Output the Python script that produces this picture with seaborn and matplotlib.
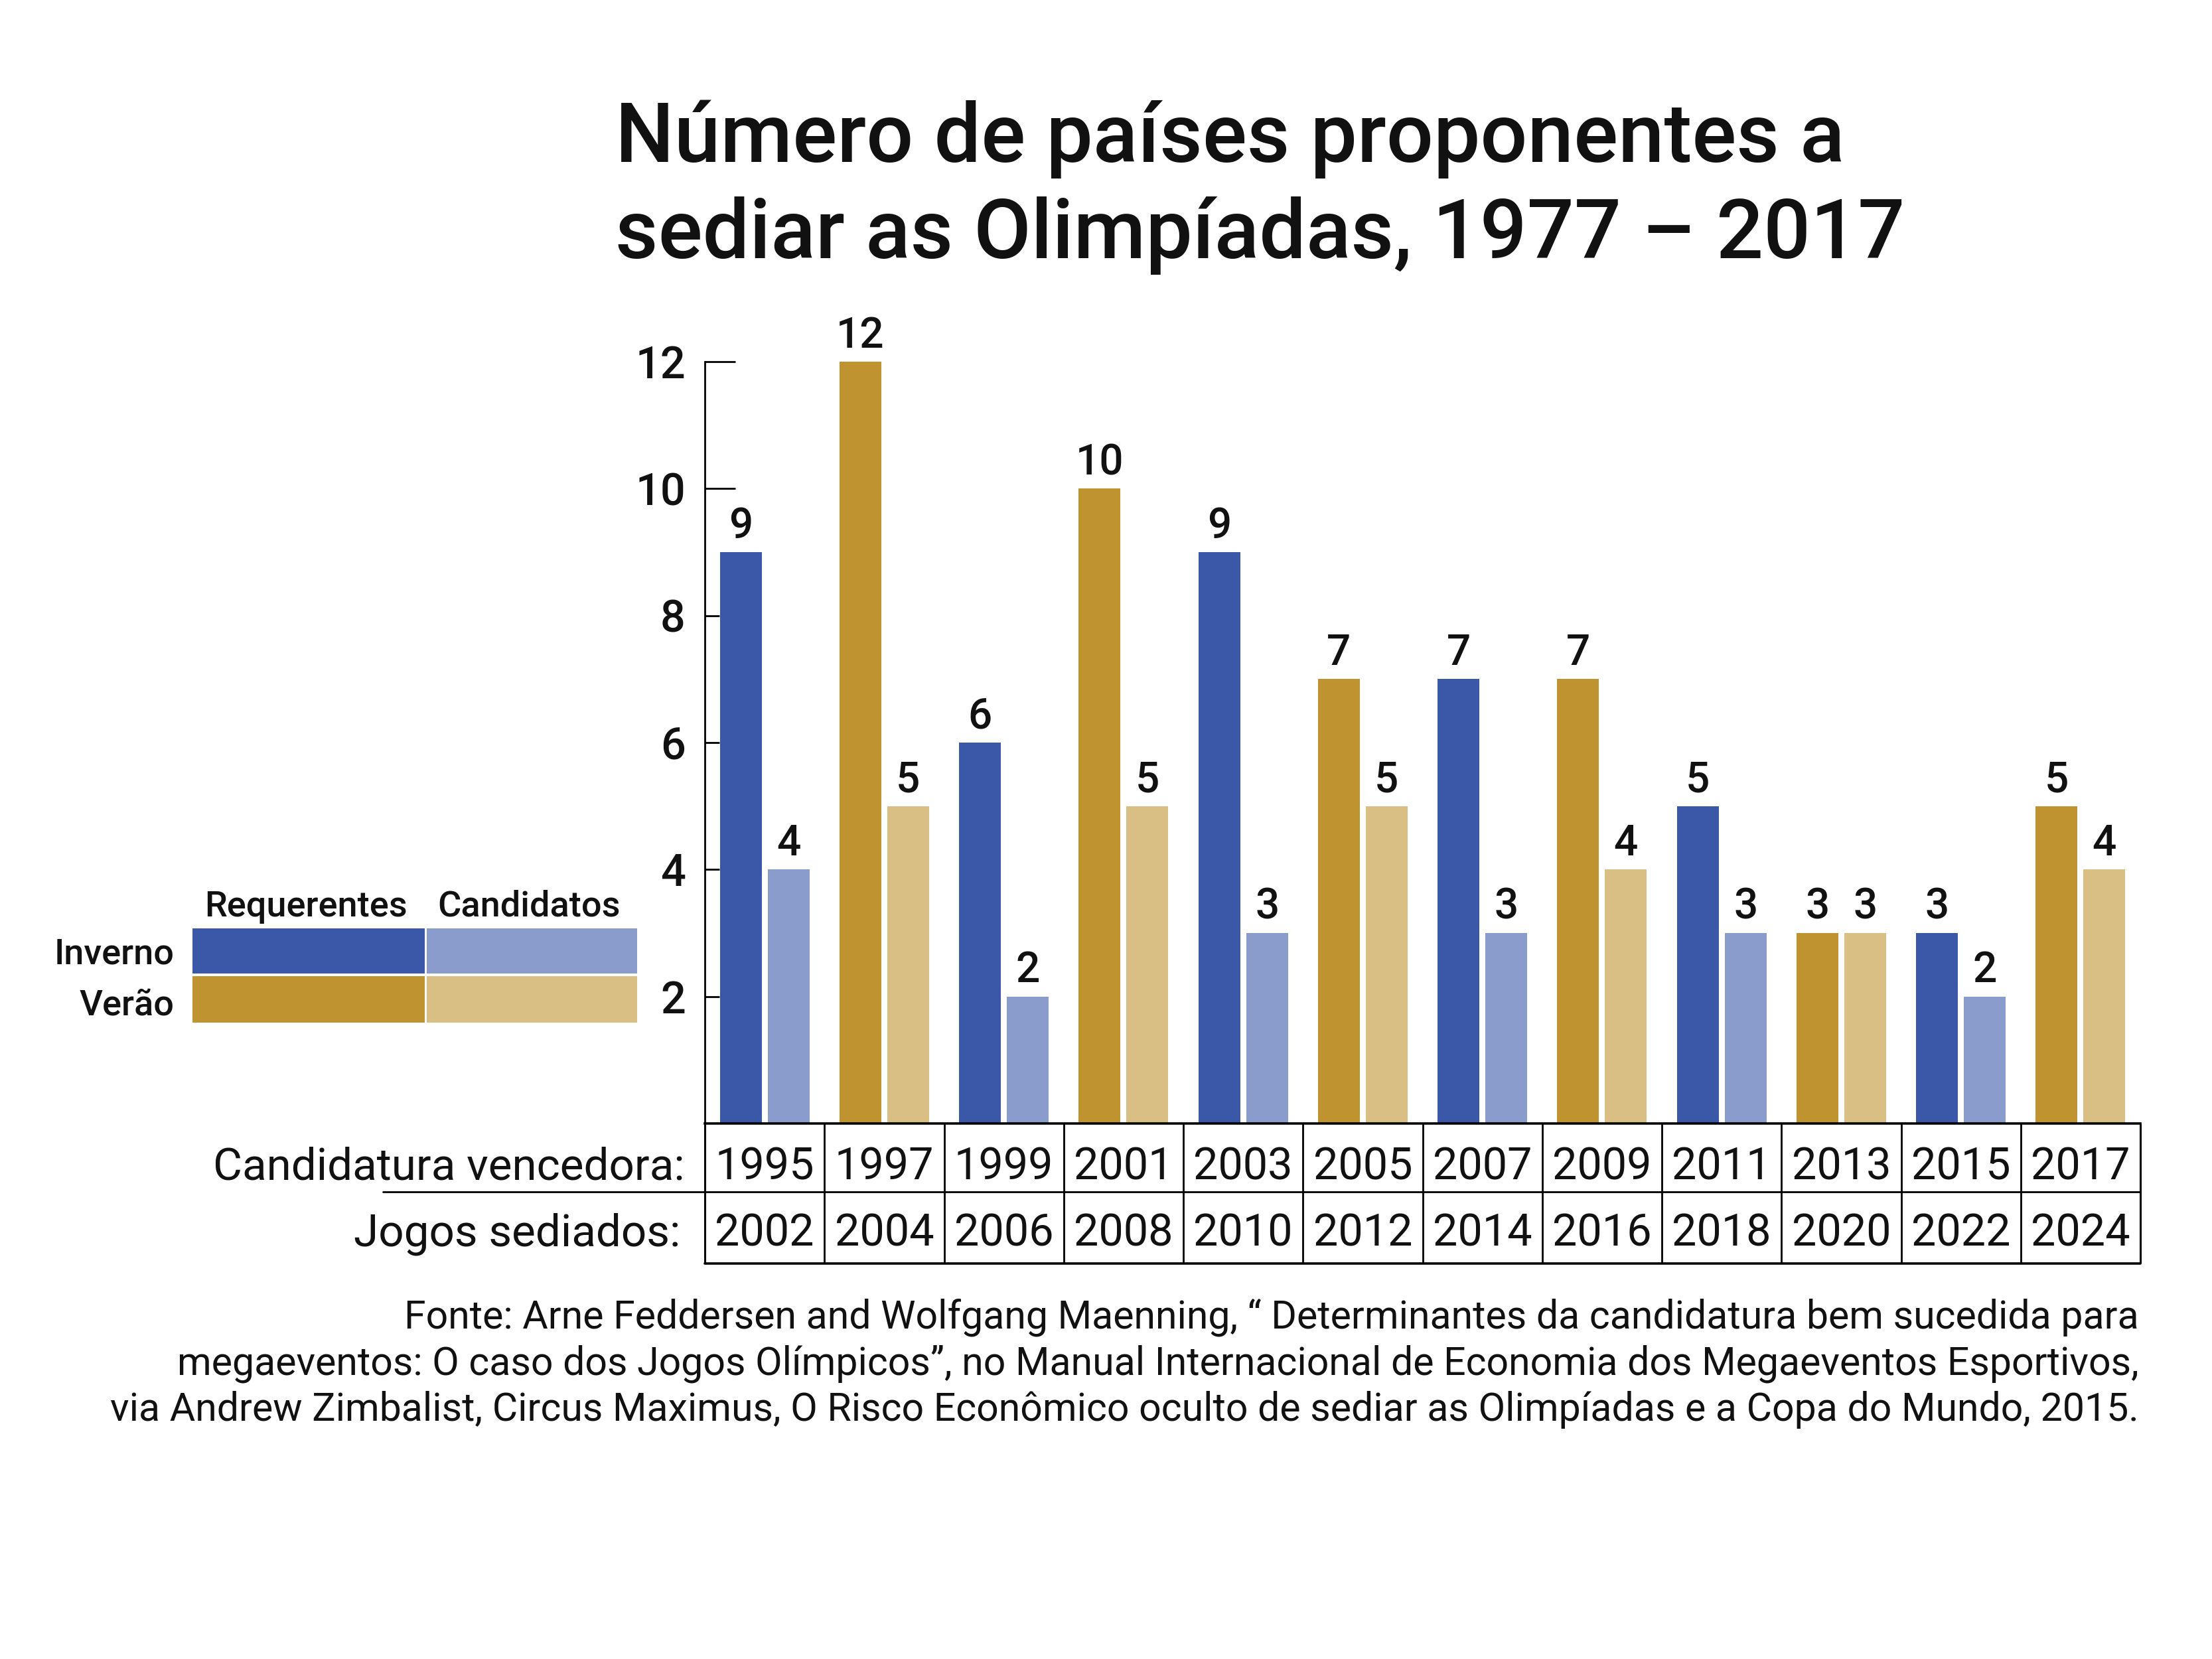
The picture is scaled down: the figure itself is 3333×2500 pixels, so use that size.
import numpy as np
import pandas as pd
import matplotlib
matplotlib.use('Agg')
import matplotlib.pyplot as plt
import matplotlib.transforms as mtransforms
from matplotlib.patches import Rectangle
import seaborn as sns

# ---------------- data ----------------
candidatura = ['1995', '1997', '1999', '2001', '2003', '2005',
               '2007', '2009', '2011', '2013', '2015', '2017']
jogos = ['2002', '2004', '2006', '2008', '2010', '2012',
         '2014', '2016', '2018', '2020', '2022', '2024']
estacao = ['Inverno', 'Verão', 'Inverno', 'Verão', 'Inverno', 'Verão',
           'Inverno', 'Verão', 'Inverno', 'Verão', 'Inverno', 'Verão']
requerentes = [9, 12, 6, 10, 9, 7, 7, 7, 5, 3, 3, 5]
candidatos = [4, 5, 2, 5, 3, 5, 3, 4, 3, 3, 2, 4]
tipos = ['Requerentes', 'Candidatos']
estacoes = ['Inverno', 'Verão']
cores = {
    ('Inverno', 'Requerentes'): '#3A58A7',
    ('Inverno', 'Candidatos'): '#8A9CCB',
    ('Verão', 'Requerentes'): '#BF9330',
    ('Verão', 'Candidatos'): '#D9BF84',
}
titulo = ['Número de países proponentes a', 'sediar as Olimpíadas, 1977 – 2017']
fonte = [
    'Fonte: Arne Feddersen and Wolfgang Maenning, “ Determinantes da candidatura bem sucedida para',
    'megaeventos: O caso dos Jogos Olímpicos”, no Manual Internacional de Economia dos Megaeventos Esportivos,',
    'via Andrew Zimbalist, Circus Maximus, O Risco Econômico oculto de sediar as Olimpíadas e a Copa do Mundo, 2015.',
]

# ---------------- style ----------------
sns.set_theme(style='white')
plt.rcParams['font.family'] = ['Roboto', 'DejaVu Sans']

df = pd.DataFrame({
    'candidatura': candidatura * 2,
    'tipo': ['Requerentes'] * len(candidatura) + ['Candidatos'] * len(candidatura),
    'valor': requerentes + candidatos,
})

W, H = 3333, 2500
fig = plt.figure(figsize=(W / 100, H / 100), dpi=100)
fig.patch.set_facecolor('white')

ax = fig.add_axes([1062 / W, 1 - 1693 / H, (3225 - 1062) / W, (1693 - 545) / H])
sns.barplot(data=df, x='candidatura', y='valor', hue='tipo', hue_order=tipos,
            order=candidatura, width=0.8, gap=0.125, saturation=1,
            errorbar=None, legend=False, ax=ax)

for cont, tipo in zip(ax.containers, tipos):
    for bar, est in zip(cont, estacao):
        bar.set_facecolor(cores[(est, tipo)])
        bar.set_edgecolor('none')
    ax.bar_label(cont, fmt='%g', padding=6, fontsize=46, fontweight='medium',
                 color='#111111')

ax.set_xlim(-0.5, 11.5)
ax.set_ylim(0, 12)
ax.set_xlabel('')
ax.set_ylabel('')
ax.tick_params(axis='x', bottom=False, labelbottom=False)
ax.set_yticks([2, 4, 6, 8, 10, 12])
ax.set_yticklabels(['2', '4', '6', '8', '10', '12'], fontsize=48, fontweight='medium',
                   color='#111111')
ax.tick_params(axis='y', direction='in', length=16, width=2, pad=21, color='black', left=True)
for t, loc in zip(ax.yaxis.get_major_ticks(), [2, 4, 6, 8, 10, 12]):
    if loc >= 10:
        t.tick1line.set_markersize(33)
for s in ['top', 'right']:
    ax.spines[s].set_visible(False)
ax.spines['left'].set_bounds(0, 12)
ax.spines['left'].set_linewidth(2)
ax.spines['left'].set_color('black')
ax.spines['bottom'].set_linewidth(2.6)
ax.spines['bottom'].set_color('black')
ax.set_facecolor('white')

# ---------------- table below the axis ----------------
trans = mtransforms.blended_transform_factory(ax.transData, ax.transAxes)
ah = 1693 - 545
y_mid = -(1796 - 1693) / ah
y_bot = -(1904 - 1693) / ah
n = len(candidatura)
for i in range(n + 1):
    x = -0.5 + i
    ax.plot([x, x], [0, y_bot], transform=trans, color='black',
            lw=2 if 0 < i < n else 2.2, clip_on=False, solid_capstyle='butt')
ax.plot([-0.5 + (577 - 1062) / 180.4, n - 0.5], [y_mid, y_mid], transform=trans,
        color='black', lw=2, clip_on=False)
ax.plot([-0.5, n - 0.5], [y_bot, y_bot], transform=trans, color='black',
        lw=2.6, clip_on=False)

yb1 = -(1777 - 1693) / ah
yb2 = -(1877 - 1693) / ah
for i, (c, j) in enumerate(zip(candidatura, jogos)):
    ax.text(i, yb1, c, transform=trans, ha='center', va='baseline', fontsize=48,
            color='#111111')
    ax.text(i, yb2, j, transform=trans, ha='center', va='baseline', fontsize=48,
            color='#111111')
ax.text(-0.5 + (1032 - 1062) / 180.4, yb1, 'Candidatura vencedora:', transform=trans,
        ha='right', va='baseline', fontsize=48.5, color='#111111')
ax.text(-0.5 + (1025 - 1062) / 180.4, yb2, 'Jogos sediados:', transform=trans,
        ha='right', va='baseline', fontsize=48.5, color='#111111')

# ---------------- legend grid ----------------
lax = fig.add_axes([290 / W, 1 - 1541 / H, (960 - 290) / W, (1541 - 1399) / H])
lax.set_xlim(0, 670)
lax.set_ylim(142, 0)
lax.axis('off')
col_x = [(0, 350), (353, 317)]
row_y = [(0, 68), (72, 70)]
for r, est in enumerate(estacoes):
    for c, tipo in enumerate(tipos):
        lax.add_patch(Rectangle((col_x[c][0], row_y[r][0]), col_x[c][1], row_y[r][1],
                                facecolor=cores[(est, tipo)], edgecolor='none'))
for c, tipo in enumerate(tipos):
    lax.text(col_x[c][0] + col_x[c][1] / 2 - 4, -18, tipo, ha='center', va='baseline',
             fontsize=39, fontweight='medium', color='#111111', clip_on=False)
for r, (est, yb) in enumerate(zip(estacoes, [54, 131])):
    lax.text(-27, yb, est, ha='right', va='baseline', fontsize=39,
             fontweight='medium', color='#111111', clip_on=False)

# ---------------- title and source ----------------
for line, yb in zip(titulo, [244, 389]):
    fig.text(927 / W, 1 - yb / H, line, ha='left', va='baseline', fontsize=90,
             fontweight='medium', color='#111111')
for line, yb in zip(fonte, [2002, 2072, 2141]):
    fig.text(3223 / W, 1 - yb / H, line, ha='right', va='baseline', fontsize=42.5,
             color='#111111')

fig.savefig('out.png', dpi=100, facecolor='white')
